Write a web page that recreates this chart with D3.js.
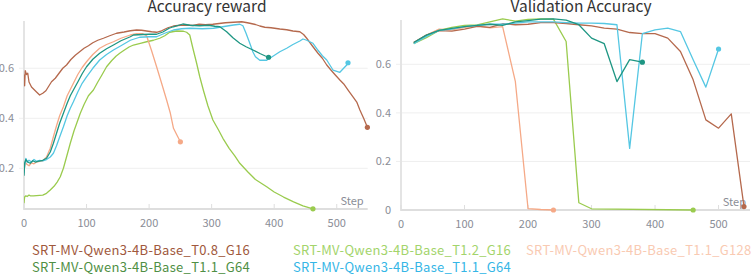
<!DOCTYPE html>
<html><head><meta charset="utf-8">
<script src="https://cdn.jsdelivr.net/npm/d3@7"></script>
<style>
html,body{margin:0;padding:0;background:#fff;}
svg{display:block;font-family:"Noto Sans CJK SC","Noto Sans",sans-serif;}
</style></head>
<body><svg id="c" width="753" height="276"></svg>
<script>
// ---------- DATA ----------
const seriesNames = [
  "SRT-MV-Qwen3-4B-Base_T0.8_G16",
  "SRT-MV-Qwen3-4B-Base_T1.1_G64",
  "SRT-MV-Qwen3-4B-Base_T1.2_G16",
  "SRT-MV-Qwen3-4B-Base_T1.1_G64",
  "SRT-MV-Qwen3-4B-Base_T1.1_G128"
];
const xTicks = [0, 100, 200, 300, 400, 500];
const leftYTicks = [0.2, 0.4, 0.6];
const rightYTicks = [0, 0.2, 0.4, 0.6];

// Accuracy reward
const rewardBrown = [[0,0.575],[1,0.53],[2,0.59],[4,0.575],[6,0.58],[8,0.545],[12,0.525],[16,0.515],[20,0.505],[25,0.493],[30,0.5],[35,0.51],[40,0.53],[44,0.546],[50,0.56],[56,0.58],[62,0.6],[68,0.613],[75,0.635],[82,0.652],[89,0.666],[96,0.68],[103,0.69],[110,0.702],[118,0.712],[127,0.72],[137,0.73],[148,0.74],[160,0.745],[170,0.75],[180,0.753],[188,0.752],[196,0.749],[204,0.746],[212,0.744],[220,0.75],[230,0.762],[239,0.769],[250,0.772],[260,0.773],[270,0.771],[280,0.776],[290,0.774],[302,0.776],[312,0.779],[322,0.782],[335,0.784],[348,0.786],[355,0.783],[361,0.78],[370,0.775],[377,0.769],[385,0.764],[395,0.762],[409,0.757],[420,0.754],[430,0.749],[441,0.746],[447,0.735],[452,0.72],[457,0.703],[462,0.686],[470,0.66],[477,0.64],[484,0.613],[490,0.595],[497,0.575],[505,0.553],[512,0.535],[519,0.51],[526,0.486],[532,0.465],[537,0.433],[543,0.4],[549,0.364]];
const rewardTeal = [[0,0.17],[1,0.22],[3,0.235],[6,0.225],[10,0.22],[14,0.23],[18,0.225],[22,0.228],[26,0.23],[30,0.232],[36,0.24],[42,0.265],[47,0.3],[52,0.34],[57,0.38],[63,0.42],[69,0.46],[74,0.49],[79,0.513],[86,0.545],[93,0.578],[100,0.606],[110,0.636],[121,0.66],[132,0.678],[143,0.693],[155,0.71],[170,0.726],[175,0.733],[190,0.735],[200,0.736],[212,0.736],[222,0.745],[232,0.76],[239,0.766],[254,0.777],[265,0.772],[281,0.77],[295,0.772],[305,0.768],[313,0.766],[318,0.757],[324,0.746],[334,0.722],[345,0.70],[355,0.686],[366,0.673],[378,0.658],[385,0.65],[391,0.644]];
const rewardLime = [[0,0.06],[1,0.085],[3,0.09],[5,0.087],[8,0.093],[10,0.09],[15,0.09],[20,0.091],[25,0.092],[30,0.093],[36,0.1],[42,0.113],[48,0.128],[53,0.145],[58,0.166],[63,0.2],[68,0.245],[74,0.30],[80,0.35],[85,0.385],[90,0.42],[96,0.455],[103,0.49],[111,0.513],[118,0.545],[125,0.575],[132,0.606],[140,0.63],[147,0.648],[153,0.66],[160,0.672],[168,0.685],[175,0.693],[186,0.7],[196,0.706],[207,0.712],[217,0.72],[225,0.73],[233,0.744],[244,0.749],[255,0.748],[260,0.744],[265,0.733],[270,0.68],[276,0.62],[281,0.566],[287,0.51],[294,0.45],[302,0.393],[311,0.353],[318,0.32],[328,0.28],[337,0.25],[345,0.22],[358,0.185],[370,0.155],[388,0.126],[400,0.105],[415,0.085],[431,0.066],[446,0.05],[462,0.038]];
const rewardCyan = [[0,0.18],[1,0.21],[3,0.24],[5,0.225],[8,0.232],[12,0.225],[16,0.235],[20,0.228],[25,0.232],[30,0.23],[36,0.235],[42,0.245],[47,0.26],[52,0.29],[57,0.325],[63,0.366],[69,0.41],[74,0.44],[79,0.466],[86,0.505],[93,0.54],[100,0.566],[110,0.6],[121,0.633],[132,0.655],[143,0.673],[155,0.69],[170,0.712],[185,0.724],[200,0.726],[212,0.726],[225,0.74],[239,0.753],[252,0.758],[265,0.76],[285,0.758],[303,0.76],[320,0.767],[335,0.773],[345,0.776],[350,0.77],[355,0.74],[361,0.70],[366,0.665],[370,0.646],[377,0.632],[388,0.632],[398,0.648],[409,0.666],[420,0.68],[430,0.695],[441,0.709],[446,0.717],[452,0.712],[462,0.70],[470,0.672],[477,0.65],[484,0.633],[494,0.593],[505,0.584],[511,0.6],[516,0.613],[518,0.622]];
const rewardPeach = [[0,0.19],[2,0.225],[5,0.215],[8,0.21],[12,0.222],[16,0.218],[20,0.225],[25,0.228],[30,0.23],[36,0.245],[42,0.28],[47,0.326],[52,0.37],[57,0.41],[63,0.446],[69,0.49],[74,0.515],[79,0.54],[86,0.575],[93,0.603],[100,0.626],[110,0.655],[121,0.68],[132,0.695],[143,0.706],[155,0.72],[170,0.733],[180,0.738],[190,0.738],[196,0.73],[204,0.67],[212,0.606],[220,0.54],[228,0.473],[234,0.42],[239,0.36],[244,0.335],[250,0.306]];

// Validation accuracy
const valBrown = [[20,0.69],[40,0.72],[60,0.739],[80,0.737],[100,0.745],[120,0.756],[140,0.752],[160,0.767],[180,0.763],[200,0.765],[220,0.772],[240,0.772],[260,0.768],[280,0.763],[300,0.758],[320,0.749],[340,0.745],[360,0.731],[380,0.726],[400,0.726],[420,0.708],[440,0.653],[460,0.536],[480,0.371],[500,0.337],[520,0.396],[540,0.014]];
const valTeal = [[20,0.69],[40,0.72],[60,0.74],[80,0.748],[100,0.755],[120,0.76],[140,0.765],[160,0.76],[180,0.775],[200,0.78],[220,0.786],[240,0.787],[260,0.782],[280,0.763],[300,0.708],[320,0.685],[340,0.529],[360,0.619],[380,0.609]];
const valLime = [[20,0.685],[40,0.71],[60,0.74],[80,0.752],[100,0.76],[120,0.762],[140,0.775],[160,0.787],[180,0.778],[200,0.785],[220,0.787],[240,0.786],[260,0.694],[280,0.03],[300,0.005],[460,0]];
const valCyan = [[20,0.685],[40,0.715],[60,0.74],[80,0.745],[100,0.755],[120,0.76],[140,0.765],[160,0.765],[180,0.77],[200,0.775],[220,0.775],[240,0.775],[260,0.772],[280,0.77],[300,0.77],[320,0.768],[340,0.763],[360,0.254],[380,0.726],[400,0.742],[420,0.749],[440,0.735],[460,0.619],[480,0.506],[500,0.663]];
const valPeach = [[20,0.69],[40,0.72],[60,0.745],[80,0.742],[100,0.752],[120,0.758],[140,0.75],[160,0.755],[180,0.53],[200,0.006],[220,0.002],[240,0]];

// ---------- STYLE ----------
const lineColors = {brown:"#b5694d", teal:"#1e9683", lime:"#9acb4e", cyan:"#55c7e3", peach:"#f5a987"};
const legendColors = ["#a0583c", "#4f8f44", "#a3d46b", "#35b6e6", "#f9cab2"];

const svg = d3.select("#c");

function panel(opt) {
  const x = d3.scaleLinear().domain([0, 549.5]).range([opt.x0, opt.x1]);
  const y = d3.scaleLinear().domain(opt.yDomain).range([opt.yb, opt.yt]);
  const g = svg.append("g");
  g.selectAll("line.grid").data(opt.yTicks.filter(t => t > opt.yDomain[0] + 1e-6)).join("line")
    .attr("x1", opt.x0 - 5).attr("x2", opt.x1).attr("y1", d => y(d)).attr("y2", d => y(d))
    .attr("stroke", "#efefef").attr("stroke-width", 1);
  g.selectAll("text.yl").data(opt.yTicks).join("text")
    .attr("x", opt.x0 - 10).attr("y", d => y(d) + 4)
    .attr("text-anchor", "end").attr("font-size", 11).attr("fill", "#8a8d96")
    .text(d => d === 0 ? "0" : d3.format(".1f")(d));
  g.append("line").attr("x1", opt.x0).attr("x2", opt.x0).attr("y1", opt.yt).attr("y2", opt.yb + 1)
    .attr("stroke", "#e4e4e4").attr("stroke-width", 2);
  g.append("line").attr("x1", opt.x0).attr("x2", opt.x1).attr("y1", opt.yb).attr("y2", opt.yb)
    .attr("stroke", "#dedede").attr("stroke-width", 2);
  g.selectAll("line.xt").data(xTicks).join("line")
    .attr("x1", d => x(d)).attr("x2", d => x(d)).attr("y1", opt.yb).attr("y2", opt.yb - 5)
    .attr("stroke", "#dedede").attr("stroke-width", 1);
  g.selectAll("text.xl").data(xTicks).join("text")
    .attr("x", d => x(d)).attr("y", opt.yb + 18)
    .attr("text-anchor", "middle").attr("font-size", 11).attr("fill", "#8a8d96")
    .text(d => d);
  g.append("text").attr("x", opt.x1 - 4).attr("y", opt.yb - 4)
    .attr("text-anchor", "end").attr("font-size", 11).attr("fill", "#8a8d96").text("Step");
  g.append("text").attr("x", opt.titleX).attr("y", 12)
    .attr("text-anchor", "middle").attr("font-size", 15.5).attr("fill", "#333").text(opt.title);
  const cid = "clip" + opt.id;
  svg.append("clipPath").attr("id", cid).append("rect")
    .attr("x", opt.x0).attr("y", opt.yt - 4).attr("width", opt.x1 - opt.x0 + 4).attr("height", opt.yb - opt.yt + 6);
  const line = d3.line().x(d => x(d[0])).y(d => y(d[1]));
  const lg = g.append("g").attr("clip-path", `url(#${cid})`);
  opt.series.forEach(s => {
    lg.append("path").datum(s.data).attr("d", line)
      .attr("fill", "none").attr("stroke", s.color).attr("stroke-width", 1.3)
      .attr("stroke-linejoin", "round");
    const last = s.data[s.data.length - 1];
    g.append("circle").attr("cx", x(last[0])).attr("cy", y(last[1])).attr("r", 2.6).attr("fill", s.color);
  });
}

panel({
  id: "L", x0: 24, x1: 367.7, yt: 21, yb: 209, yDomain: [0.0372, 0.789], yTicks: leftYTicks,
  title: "Accuracy reward", titleX: 207,
  series: [
    {data: rewardLime, color: lineColors.lime},
    {data: rewardPeach, color: lineColors.peach},
    {data: rewardBrown, color: lineColors.brown},
    {data: rewardCyan, color: lineColors.cyan},
    {data: rewardTeal, color: lineColors.teal}
  ]
});
panel({
  id: "R", x0: 401, x1: 750, yt: 20, yb: 210, yDomain: [0, 0.7825], yTicks: rightYTicks,
  title: "Validation Accuracy", titleX: 581,
  series: [
    {data: valPeach, color: lineColors.peach},
    {data: valLime, color: lineColors.lime},
    {data: valBrown, color: lineColors.brown},
    {data: valCyan, color: lineColors.cyan},
    {data: valTeal, color: lineColors.teal}
  ]
});

const legendPos = [[32, 254.5], [32, 272], [293, 254.5], [293, 272], [526, 254.5]];
svg.append("g").selectAll("text").data(seriesNames).join("text")
  .attr("x", (d, i) => legendPos[i][0]).attr("y", (d, i) => legendPos[i][1])
  .attr("font-size", 13).attr("letter-spacing", 0.3).attr("fill", (d, i) => legendColors[i])
  .text(d => d);
</script></body></html>
